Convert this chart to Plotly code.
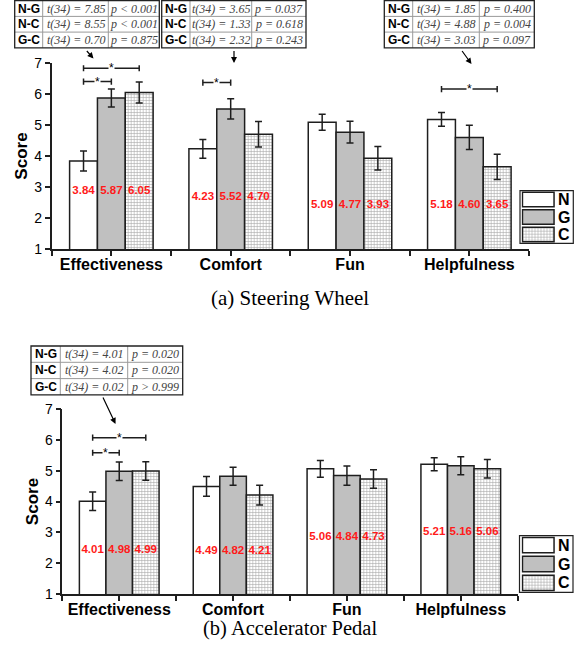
import plotly.graph_objects as go

# ---------------- data ----------------
categories = ["Effectiveness", "Comfort", "Fun", "Helpfulness"]
series_names = ["N", "G", "C"]

steer_N = [3.84, 4.23, 5.09, 5.18]
steer_G = [5.87, 5.52, 4.77, 4.60]
steer_C = [6.05, 4.70, 3.93, 3.65]
steer_N_err = [0.32, 0.30, 0.26, 0.22]
steer_G_err = [0.29, 0.33, 0.35, 0.39]
steer_C_err = [0.34, 0.41, 0.38, 0.41]

pedal_N = [4.01, 4.49, 5.06, 5.21]
pedal_G = [4.98, 4.82, 4.84, 5.16]
pedal_C = [4.99, 4.21, 4.73, 5.06]
pedal_N_err = [0.30, 0.32, 0.27, 0.21]
pedal_G_err = [0.30, 0.29, 0.31, 0.29]
pedal_C_err = [0.30, 0.32, 0.30, 0.30]

pairs = ["N-G", "N-C", "G-C"]
steer_eff_t = ["7.85", "8.55", "0.70"]
steer_eff_p = ["p &lt; 0.001", "p &lt; 0.001", "p = 0.875"]
steer_com_t = ["3.65", "1.33", "2.32"]
steer_com_p = ["p = 0.037", "p = 0.618", "p = 0.243"]
steer_hlp_t = ["1.85", "4.88", "3.03"]
steer_hlp_p = ["p = 0.400", "p = 0.004", "p = 0.097"]
pedal_eff_t = ["4.01", "4.02", "0.02"]
pedal_eff_p = ["p = 0.020", "p = 0.020", "p &gt; 0.999"]

# significance brackets: (category index, from series, to series, level)
steer_sig = [(0, 0, 1, 6.40), (0, 0, 2, 6.83), (1, 0, 1, 6.37), (3, 0, 2, 6.16)]
pedal_sig = [(0, 0, 1, 5.58), (0, 0, 2, 6.07)]

# ---------------- layout constants ----------------
W, H = 585, 660
steer_label_y = [2.88, 2.66, 2.42, 2.42]
pedal_label_y = [2.43, 2.40, 2.84, 3.02]
GROUP = 0.70
BW = GROUP / 3

def px_x(p):
    return p / W

def px_y(p):
    return 1 - p / H

SANS = "Liberation Sans"
SERIF = "Liberation Serif"
EDGE = "#1e1e1e"
styles = [
    dict(color="white"),
    dict(color="#c0c0c0"),
    dict(color="white", pattern=dict(shape="+", size=3, fgcolor="#a8a8a8", bgcolor="white", solidity=0.35)),
]

fig = go.Figure()

def add_panel(vals, errs, label_y, xa, ya):
    cx = [i + 0.5 for i in range(len(categories))]
    for k, (v, e) in enumerate(zip(vals, errs)):
        m = dict(styles[k])
        m["line"] = dict(color=EDGE, width=1.5)
        fig.add_trace(go.Bar(
            x=cx, y=v, name=series_names[k], marker=m, showlegend=False,
            error_y=dict(type="data", array=e, color=EDGE, thickness=1.5, width=3.5),
            xaxis=xa, yaxis=ya))
        fig.add_trace(go.Scatter(
            x=[c + (k - 1) * BW for c in cx], y=label_y,
            text=[f"{x:.2f}" for x in v], mode="text", showlegend=False,
            textfont=dict(family=SANS, size=11.5, color="#ff1a1a", weight="bold"),
            xaxis=xa, yaxis=ya))

add_panel([steer_N, steer_G, steer_C], [steer_N_err, steer_G_err, steer_C_err], steer_label_y, "x", "y")
add_panel([pedal_N, pedal_G, pedal_C], [pedal_N_err, pedal_G_err, pedal_C_err], pedal_label_y, "x2", "y2")

shapes = []
annotations = []

def add_brackets(sig, xref, yref):
    for cat, a, b, lev in sig:
        x0 = cat + 0.5 + (a - 1) * BW
        x1 = cat + 0.5 + (b - 1) * BW
        line = dict(color=EDGE, width=1.5)
        shapes.append(dict(type="line", xref=xref, yref=yref, x0=x0, x1=x1, y0=lev, y1=lev, line=line))
        for xx in (x0, x1):
            shapes.append(dict(type="line", xref=xref, yref=yref, x0=xx, x1=xx, y0=lev - 0.1, y1=lev + 0.1, line=line))
        annotations.append(dict(xref=xref, yref=yref, x=(x0 + x1) / 2, y=lev, text="*", showarrow=False,
                                xanchor="center", yanchor="middle",
                                bgcolor="white", borderpad=0, font=dict(family=SANS, size=12, color="black")))

add_brackets(steer_sig, "x", "y")
add_brackets(pedal_sig, "x2", "y2")

def add_table(xs, y_top, row_h, t_vals, p_vals):
    ys = [y_top + i * row_h for i in range(4)]
    for yy in ys[1:3]:
        shapes.append(dict(type="line", xref="paper", yref="paper", x0=px_x(xs[0]), x1=px_x(xs[3]),
                           y0=px_y(yy), y1=px_y(yy), line=dict(color="#9a9a9a", width=1)))
    for xx in xs[1:3]:
        shapes.append(dict(type="line", xref="paper", yref="paper", x0=px_x(xx), x1=px_x(xx),
                           y0=px_y(ys[0]), y1=px_y(ys[3]), line=dict(color="#9a9a9a", width=1)))
    shapes.append(dict(type="rect", xref="paper", yref="paper", x0=px_x(xs[0]), x1=px_x(xs[3]),
                       y0=px_y(ys[0]), y1=px_y(ys[3]), line=dict(color="#222", width=1.3)))
    for r in range(3):
        yc = px_y((ys[r] + ys[r + 1]) / 2)
        cells = [
            (pairs[r], dict(family=SANS, size=12, color="black", weight="bold")),
            (f"<i>t(34) = {t_vals[r]}</i>", dict(family=SERIF, size=12, color="#444")),
            (f"<i>{p_vals[r]}</i>", dict(family=SERIF, size=12, color="#444")),
        ]
        for c, (txt, f) in enumerate(cells):
            annotations.append(dict(xref="paper", yref="paper", x=px_x((xs[c] + xs[c + 1]) / 2), y=yc,
                                    text=txt, showarrow=False, font=f, xanchor="center", yanchor="middle"))

add_table([14.7, 42.7, 108.3, 159.3], 0.7, 15.7, steer_eff_t, steer_eff_p)
add_table([161.7, 190.0, 251.7, 306.0], 0.7, 15.7, steer_com_t, steer_com_p)
add_table([384.3, 412.7, 479.3, 534.3], 0.7, 15.7, steer_hlp_t, steer_hlp_p)
add_table([31.0, 60.3, 127.7, 182.7], 346.0, 16.3, pedal_eff_t, pedal_eff_p)

def add_arrow(tail, head):
    annotations.append(dict(xref="paper", yref="paper", x=px_x(head[0]), y=px_y(head[1]),
                            ax=tail[0] - head[0], ay=tail[1] - head[1], text="", showarrow=True,
                            arrowhead=2, arrowsize=1, arrowwidth=1.2, arrowcolor="black"))

add_arrow((85.5, 49.5), (93.5, 58.5))
add_arrow((234, 49.5), (234, 63))
add_arrow((461, 49.5), (471.5, 64))
add_arrow((102.3, 396), (115.5, 424))

hidden = dict(showline=False, showticklabels=False, showgrid=False, zeroline=False, ticks="", automargin=False)

# legends: swatch bars on hidden axes
def add_legend(n, box, sw_x):
    x0, x1, y0, y1 = box
    shapes.append(dict(type="rect", xref="paper", yref="paper", x0=px_x(x0), x1=px_x(x1),
                       y0=px_y(y1), y1=px_y(y0), line=dict(color="#222", width=1.2)))
    for k in range(3):
        m = dict(styles[k])
        m["line"] = dict(color=EDGE, width=1.5)
        fig.add_trace(go.Bar(y=[k], x=[1], base=[0], orientation="h", width=[0.82], offset=[-0.41],
                             marker=m, showlegend=False, hoverinfo="skip",
                             xaxis=f"x{n}", yaxis=f"y{n}"))
        yc = y0 + (y1 - y0) * (k + 0.5) / 3
        annotations.append(dict(xref="paper", yref="paper", x=px_x(563.5), y=px_y(yc), text=series_names[k],
                                xanchor="center", yanchor="middle",
                                showarrow=False, font=dict(family=SANS, size=16, color="black", weight="bold")))
    xa = dict(domain=[px_x(sw_x[0]), px_x(sw_x[1])], range=[-0.03, 1.03], anchor=f"y{n}", **hidden)
    ya = dict(domain=[px_y(y1), px_y(y0)], range=[2.5, -0.5], anchor=f"x{n}", **hidden)
    return xa, ya

xa3, ya3 = add_legend(3, (520.0, 573.3, 190.7, 243.3), (521.5, 555.0))
xa4, ya4 = add_legend(4, (519.5, 573.0, 535.7, 592.3), (521.5, 555.0))

# captions
annotations.append(dict(xref="paper", yref="paper", x=px_x(290), y=px_y(297.7), text="(a) Steering Wheel",
                        xanchor="center", yanchor="middle",
                        showarrow=False, font=dict(family=SERIF, size=21, color="black")))
annotations.append(dict(xref="paper", yref="paper", x=px_x(290.3), y=px_y(628.5), text="(b) Accelerator Pedal",
                        xanchor="center", yanchor="middle",
                        showarrow=False, font=dict(family=SERIF, size=20.5, color="black")))

tickvals = [i * 0.5 for i in range(2 * len(categories) + 1)]
ticktext = [categories[i // 2] if i % 2 == 1 else "" for i in range(2 * len(categories) + 1)]

def xaxis_cfg(domain, anchor, lab_off):
    return dict(domain=domain, anchor=anchor, range=[0, len(categories)], tickvals=tickvals, ticktext=ticktext,
                showline=True, linecolor=EDGE, linewidth=1.5, ticks="outside", ticklen=5, tickwidth=1.5,
                tickcolor=EDGE, showgrid=False, zeroline=False, automargin=False, ticklabelstandoff=lab_off,
                tickfont=dict(family=SANS, size=16, color="black", weight="bold"))

def yaxis_cfg(domain, anchor):
    return dict(domain=domain, anchor=anchor, range=[1, 7], dtick=1, tick0=1,
                showline=True, linecolor=EDGE, linewidth=1.5, ticks="outside", ticklen=5, tickwidth=1.5,
                tickcolor=EDGE, showgrid=False, zeroline=False, automargin=False,
                tickfont=dict(family=SANS, size=14, color="black"),
                title=dict(text="Score", standoff=2,
                           font=dict(family=SANS, size=17, color="black", weight="bold")))

fig.update_layout(
    template="none",
    width=W, height=H, autosize=False,
    margin=dict(l=0, r=0, t=0, b=0, pad=0),
    paper_bgcolor="white", plot_bgcolor="white",
    font=dict(family=SANS, color="black"),
    barmode="group", bargap=1 - GROUP, bargroupgap=0,
    showlegend=False,
    xaxis=xaxis_cfg([px_x(51.7), px_x(529.0)], "y", -5),
    yaxis=yaxis_cfg([px_y(249.0), px_y(63.0)], "x"),
    xaxis2=xaxis_cfg([px_x(62.3), px_x(517.7)], "y2", -5),
    yaxis2=yaxis_cfg([px_y(594.0), px_y(409.0)], "x2"),
    xaxis3=xa3, yaxis3=ya3, xaxis4=xa4, yaxis4=ya4,
    shapes=shapes, annotations=annotations,
)

# the page body has a default 8px margin; remove it so the figure sits at the window origin
fig.write_html("out.html", config={"displayModeBar": False},
               post_script="document.body.style.margin='0';")
